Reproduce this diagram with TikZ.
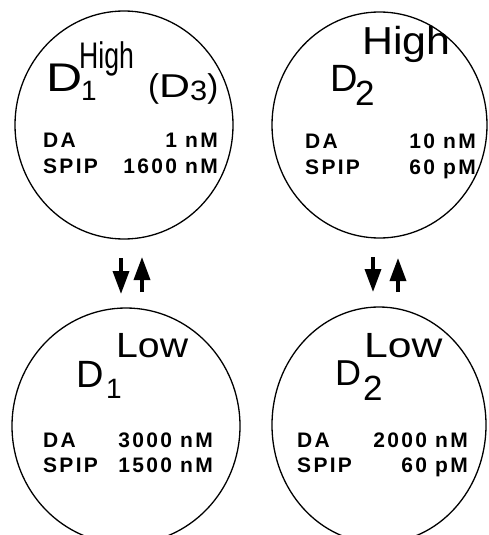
\documentclass[tikz,border=0pt]{standalone}
\usepackage{fontspec}
\setmainfont{Liberation Sans}
\newfontfamily\labfont[LetterSpace=11]{Liberation Sans Bold}
\usetikzlibrary{shapes.geometric,arrows.meta}
\tikzset{
  cell/.style={ellipse, draw, line width=1.3pt, inner sep=0pt},
  lab/.style={font=\labfont\fontsize{21}{21}\selectfont, inner sep=0pt, anchor=base west},
  val/.style={font=\labfont\fontsize{21}{21}\selectfont, inner sep=0pt, anchor=base east},
  big/.style={inner sep=0pt, anchor=base west},
  flow/.style={line width=3.5pt, -{Triangle[length=23pt,width=16pt]}}
}
\newcommand{\fs}[1]{\fontsize{#1}{#1}\selectfont}
\begin{document}
\begin{tikzpicture}[x=1pt,y=-1pt]
\useasboundingbox (0,0) rectangle (488,535);
% circles
\node[cell, minimum width=218pt, minimum height=228pt] (tl) at (124,125) {};
\node[cell, minimum width=215pt, minimum height=226pt] (tr) at (379.5,125) {};
\node[cell, minimum width=228pt, minimum height=236pt] (bl) at (126,426) {};
\node[cell, minimum width=214pt, minimum height=236pt] (br) at (379,425) {};
% top-left labels
\node[big, font=\fs{40}] (tlD) at (46,92) {\scalebox{1.25}[1]{D}};
\node[big, font=\fs{28}] (tlS) at (81,100) {1};
\node[big, font=\fs{37}] (tlH) at (79,68) {\scalebox{0.72}[1]{High}};
\node[big, font=\fs{33}] (tlX) at (148,97) {(\scalebox{1.3}[1]{D}\raisebox{-3pt}{\fs{28}\scalebox{1.1}[1]{3}})};
\node[lab] (tlDA) at (43,147) {DA};
\node[lab] (tlSP) at (43,173) {SPIP};
\node[val] (tlv1) at (218,147) {1 nM};
\node[val] (tlv2) at (218,173) {1600 nM};
% top-right labels
\node[big, font=\fs{38}] (trD) at (330,92) {D};
\node[big, font=\fs{35}] (trS) at (355,105) {2};
\node[big, font=\fs{39}] (trH) at (362,55) {\scalebox{1.1}[1]{High}};
\node[lab] (trDA) at (305,148) {DA};
\node[lab] (trSP) at (305,174) {SPIP};
\node[val] (trv1) at (476,148) {10 nM};
\node[val] (trv2) at (476,174) {60 pM};
% bottom-left labels
\node[big, font=\fs{38}] (blD) at (76,387) {D};
\node[big, font=\fs{28}] (blS) at (106,398) {1};
\node[big, font=\fs{35}] (blL) at (116,357) {\scalebox{1.12}[1]{Low}};
\node[lab] (blDA) at (43,447) {DA};
\node[lab] (blSP) at (43,472) {SPIP};
\node[val] (blv1) at (213,447) {3000 nM};
\node[val] (blv2) at (213,472) {1500 nM};
% bottom-right labels
\node[big, font=\fs{36}] (brD) at (335,385) {D};
\node[big, font=\fs{35}] (brS) at (363,400) {2};
\node[big, font=\fs{35}] (brL) at (364,357) {\scalebox{1.22}[1]{Low}};
\node[lab] (brDA) at (297,447) {DA};
\node[lab] (brSP) at (297,472) {SPIP};
\node[val] (brv1) at (468,447) {2000 nM};
\node[val] (brv2) at (468,472) {60 pM};
% arrows
\coordinate (a1t) at (121,258); \coordinate (a1b) at (121,294);
\coordinate (a2b) at (142,292); \coordinate (a2t) at (142,257);
\coordinate (a3t) at (373,257); \coordinate (a3b) at (373,292);
\coordinate (a4b) at (398,292); \coordinate (a4t) at (398,258);
\draw[flow] (a1t) -- (a1b);
\draw[flow] (a2b) -- (a2t);
\draw[flow] (a3t) -- (a3b);
\draw[flow] (a4b) -- (a4t);
\end{tikzpicture}
\end{document}
